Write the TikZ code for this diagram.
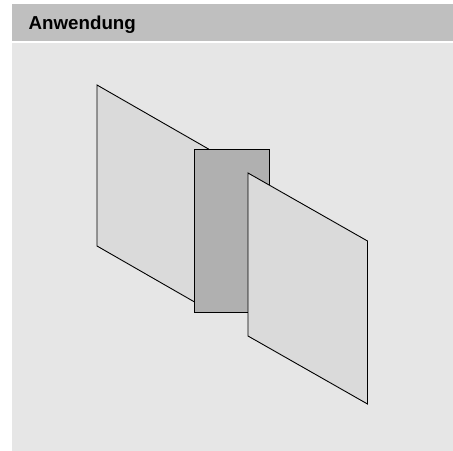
\documentclass[tikz,border=0pt]{standalone}
\usepackage{fontspec}
\setmainfont{Liberation Sans}
\definecolor{bodygray}{HTML}{E6E6E6}
\definecolor{headgray}{HTML}{BFBFBF}
\definecolor{sheetgray}{HTML}{DADADA}
\definecolor{midgray}{HTML}{B0B0B0}
\tikzset{
  sheet/.style={draw=black,line width=0.9pt,line join=miter,fill=sheetgray},
  midsheet/.style={draw=black,line width=0.9pt,line join=miter,fill=midgray},
  band/.style={draw=none}
}
\begin{document}
\begin{tikzpicture}[x=1bp,y=-1bp]
\useasboundingbox (0,0) rectangle (453,451);
\fill[white] (0,0) rectangle (453,451);
\fill[band,headgray] (12,4) rectangle (453,41);
\fill[band,bodygray] (12,43) rectangle (453,451);
\node[anchor=base west,inner sep=0pt,font=\fontsize{18.8}{22}\selectfont\bfseries] (title) at (28.5,30) {Anwendung};
\draw[sheet] (97,85) -- (208.5,149) -- (208.5,310) -- (97,246) -- cycle;
\draw[midsheet] (194,149) rectangle (269,312.5);
\draw[sheet] (248,173) -- (367.5,241) -- (367.5,404) -- (248,336) -- cycle;
\end{tikzpicture}
\end{document}
